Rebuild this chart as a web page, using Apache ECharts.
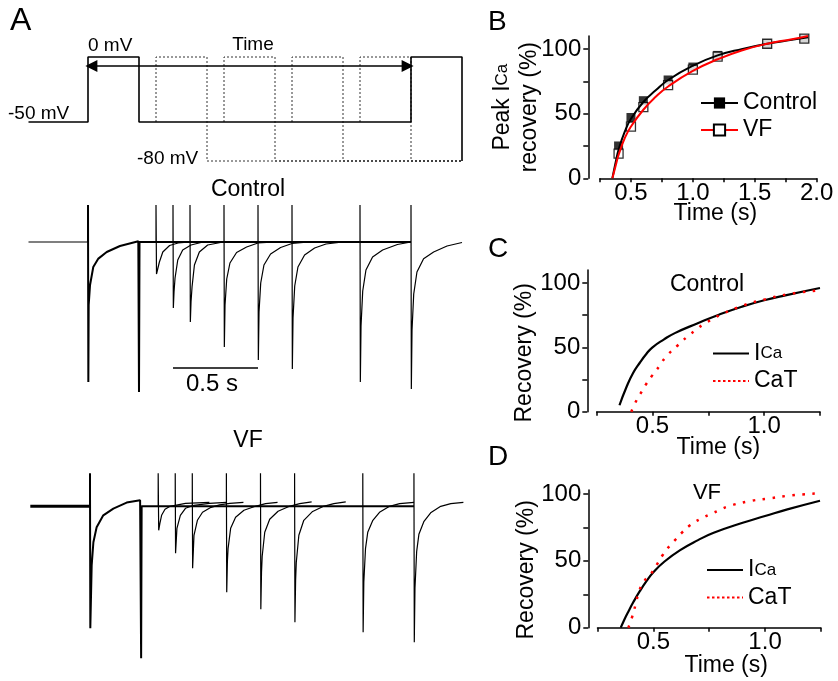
<!DOCTYPE html>
<html>
<head>
<meta charset="utf-8">
<script src="https://cdn.jsdelivr.net/npm/echarts@6/dist/echarts.min.js"></script>
<style>
  html, body { margin: 0; padding: 0; background: #fff; }
  #chart { width: 838px; height: 681px; }
</style>
</head>
<body>
<div id="chart"></div>
<script>
var FONT = '"Liberation Sans", Arial, Helvetica, sans-serif';

// ---- A: voltage protocol (mV), time in s from prepulse onset
var holdMv = -50, testMv = 0, postMv = -80;
var protoRange = [-0.35, 2.2];
var prepulseEnd = 0.3;
var dashedTestStarts = [0.4, 0.8, 1.2, 1.6];
var solidTestStart = 1.9;
var testDur = 0.3;
var arrowSpan = [0.02, 1.88];
var arrowMv = -7;

// ---- A: current traces (arbitrary units, holding level = 0)
var ctlBaseline = [[-0.35, 0], [0, 0]];
var ctlHold = [[0.3, 0], [1.9, 0]];
var ctlPrepulse = [[0, 0], [0, 37], [0.002, -140], [0.004, -63], [0.012, -43], [0.031, -25], [0.061, -16.6], [0.11, -10], [0.188, -4], [0.296, 0.7], [0.3, 0.7], [0.3, -150], [0.303, 0]];
var ctlSweeps = [
  [[0.4, 0], [0.4, 37], [0.403, -32], [0.41, -27], [0.42, -20], [0.44, -10], [0.48, -3.5], [0.53, -1], [0.6, 0], [0.7, 0]],
  [[0.5, 0], [0.5, 37], [0.502, -66], [0.506, -50], [0.512, -36], [0.528, -18], [0.557, -8], [0.606, -3], [0.665, -0.5], [0.8, 0]],
  [[0.6, 0], [0.6, 37], [0.602, -80], [0.606, -60], [0.612, -45], [0.626, -23], [0.655, -10], [0.704, -3], [0.78, -0.5], [0.9, 0]],
  [[0.8, 0], [0.8, 37], [0.802, -105], [0.806, -63], [0.816, -37], [0.835, -21], [0.874, -10.5], [0.933, -5], [1.0, -1], [1.1, 0]],
  [[1.0, 0], [1.0, 37], [1.002, -118], [1.006, -70], [1.016, -41], [1.035, -23], [1.074, -12], [1.133, -5.5], [1.2, -1.5], [1.3, 0]],
  [[1.2, 0], [1.2, 37], [1.202, -127], [1.206, -76], [1.216, -44], [1.235, -25], [1.274, -13], [1.333, -6], [1.4, -2], [1.5, 0]],
  [[1.6, 0], [1.6, 37], [1.602, -140], [1.606, -84], [1.616, -49], [1.635, -28], [1.674, -15], [1.733, -8], [1.82, -2.5], [1.9, 0]],
  [[1.9, 0], [1.9, 37], [1.902, -147], [1.906, -88], [1.916, -52], [1.935, -30], [1.974, -16.7], [2.033, -10], [2.112, -4], [2.2, -0.5]]
];
var vfBaseline = [[-0.35, 0], [0, 0]];
var vfHold = [[0.3, 0], [1.9, 0]];
var vfPrepulse = [[0, 0], [0, 33], [0.002, -122], [0.01, -59], [0.02, -36], [0.039, -21], [0.078, -9], [0.137, -2.3], [0.215, 3.7], [0.294, 6], [0.3, 6], [0.3, -152], [0.303, 0]];
var vfSweeps = [
  [[0.4, 0], [0.4, 33], [0.403, -24], [0.41, -17], [0.42, -9], [0.44, -3], [0.47, 0], [0.56, 3], [0.7, 4]],
  [[0.5, 0], [0.5, 33], [0.502, -47], [0.51, -22], [0.53, -9], [0.56, -2], [0.61, 1], [0.7, 3], [0.8, 4]],
  [[0.6, 0], [0.6, 33], [0.602, -62], [0.61, -29], [0.63, -14], [0.66, -6], [0.71, -1], [0.76, 1.5], [0.82, 3], [0.9, 4]],
  [[0.8, 0], [0.8, 33], [0.802, -86], [0.806, -55], [0.81, -42], [0.825, -22], [0.854, -11], [0.903, -4], [0.97, 0], [1.03, 2.7], [1.1, 4]],
  [[1.0, 0], [1.0, 33], [1.002, -103], [1.006, -66], [1.01, -50], [1.025, -26], [1.054, -13], [1.103, -5], [1.17, 0], [1.23, 2.7], [1.3, 4.5]],
  [[1.2, 0], [1.2, 33], [1.202, -116], [1.206, -74], [1.21, -56], [1.225, -29], [1.254, -14], [1.303, -5.5], [1.37, 0], [1.43, 2.7], [1.5, 4.5]],
  [[1.6, 0], [1.6, 33], [1.602, -126], [1.606, -76], [1.616, -42], [1.629, -26], [1.659, -14], [1.698, -6], [1.757, 0], [1.816, 2.7], [1.9, 4]],
  [[1.9, 0], [1.9, 33], [1.902, -136], [1.906, -82], [1.916, -45], [1.929, -28], [1.959, -15], [1.998, -6.5], [2.057, 0], [2.116, 2.7], [2.19, 4]]
];
var scaleBarT = [0.5, 1.0];
var scaleBarLevel = -126;

// ---- B: peak ICa recovery (%)
var bTimes = [0.4, 0.5, 0.6, 0.8, 1.0, 1.2, 1.6, 1.9];
var bControl = [25, 47, 60, 76, 86, 95, 104, 108];
var bVF = [19, 40, 55, 72, 84, 94, 104, 108];
var bFitT = [0.35, 0.38, 0.4, 0.45, 0.5, 0.6, 0.7, 0.8, 1.0, 1.2, 1.4, 1.6, 1.8, 1.93];
var bControlFit = [0, 14, 22, 36, 46, 59, 68, 76, 87, 95, 100, 104, 107, 109];
var bVFFit = [0, 11, 18, 31, 40, 53, 63, 71, 83, 92, 99, 104, 107.5, 110];
var bXTicks = [0.25, 0.5, 0.75, 1.0, 1.25, 1.5, 1.75, 2.0];
var bXLabels = [0.5, 1.0, 1.5, 2.0];

// ---- C: control, ICa vs CaT recovery (%)
var cIcaT = [0.352, 0.383, 0.413, 0.443, 0.473, 0.5, 0.55, 0.6, 0.7, 0.8, 0.9, 1.0, 1.1, 1.25];
var cIca = [5, 19, 30, 38, 45, 50, 56, 61, 68.5, 75.5, 81.5, 86.5, 90.5, 96];
var cCaTT = [0.405, 0.423, 0.446, 0.47, 0.498, 0.529, 0.56, 0.616, 0.654, 0.691, 0.729, 0.77, 0.807, 0.91, 1.0, 1.1, 1.249];
var cCaT = [0, 7, 14, 21, 28, 35, 42.6, 52, 58, 63, 68, 72, 75.5, 82.7, 87, 91, 94.3];

// ---- D: VF, ICa vs CaT recovery (%)
var dIcaT = [0.354, 0.37, 0.388, 0.41, 0.44, 0.47, 0.5, 0.55, 0.62, 0.7, 0.77, 0.9, 1.0, 1.1, 1.246];
var dIca = [0, 6, 12, 19, 27.5, 35, 41.5, 49.5, 58, 65.5, 71, 78.5, 83.5, 88.5, 95];
var dCaTT = [0.388, 0.403, 0.42, 0.437, 0.46, 0.49, 0.515, 0.542, 0.572, 0.6, 0.627, 0.664, 0.706, 0.746, 0.79, 0.831, 0.918, 1.022, 1.12, 1.246];
var dCaT = [0, 7, 17, 27.7, 35, 40.6, 47, 54.4, 61, 66, 71, 76.6, 81, 84.3, 87.5, 90.5, 94.3, 96.8, 99, 100.5];

var cdXTicks = [0.25, 0.5, 0.75, 1.0, 1.25];
var cdXLabels = [0.5, 1.0];
var yTicks = [0, 25, 50, 75, 100];
var yLabels = [0, 50, 100];

function zip(xs, ys) {
  return xs.map(function (x, i) { return [x, ys[i]]; });
}

var chart = echarts.init(document.getElementById('chart'), null, { renderer: 'canvas' });

// protocol paths
var solidProto = [
  [protoRange[0], holdMv], [0, holdMv], [0, testMv], [prepulseEnd, testMv], [prepulseEnd, holdMv],
  [solidTestStart, holdMv], [solidTestStart, testMv], [solidTestStart + testDur, testMv], [solidTestStart + testDur, postMv]
];

var series = [];

dashedTestStarts.forEach(function (t0) {
  series.push({
    type: 'line', xAxisIndex: 0, yAxisIndex: 0, symbol: 'none', clip: false, silent: true,
    data: [[t0, holdMv], [t0, testMv], [t0 + testDur, testMv], [t0 + testDur, postMv], [protoRange[1], postMv]],
    lineStyle: { color: '#333', width: 1, type: [2, 2] }
  });
});
series.push({
  type: 'line', xAxisIndex: 0, yAxisIndex: 0, symbol: 'none', clip: false, silent: true,
  data: solidProto,
  lineStyle: { color: '#000', width: 1.6 },
  markLine: {
    silent: true, animation: false,
    symbol: ['triangle', 'triangle'], symbolSize: [12, 12],
    label: { show: false },
    lineStyle: { color: '#000', width: 1.6, type: 'solid' },
    data: [[{ coord: [arrowSpan[0], arrowMv] }, { coord: [arrowSpan[1], arrowMv] }]]
  }
});

function trace(grid, data, width) {
  return {
    type: 'line', xAxisIndex: grid, yAxisIndex: grid, symbol: 'none', clip: false, silent: true,
    data: data, lineStyle: { color: '#000', width: width }
  };
}

series.push(trace(1, ctlBaseline, 1.2));
series.push(trace(1, ctlHold, 2));
ctlSweeps.forEach(function (s) { series.push(trace(1, s, 1.2)); });
series.push(trace(1, ctlPrepulse, 2));
series.push(trace(1, zip(scaleBarT, [scaleBarLevel, scaleBarLevel]), 1.5));

series.push(trace(2, vfBaseline, 3));
series.push(trace(2, vfHold, 2));
vfSweeps.forEach(function (s) { series.push(trace(2, s, 1.2)); });
series.push(trace(2, vfPrepulse, 2));

// B
series.push({ name: 'ctlFit', type: 'line', xAxisIndex: 3, yAxisIndex: 3, symbol: 'none', smooth: true, clip: false,
  data: zip(bFitT, bControlFit), lineStyle: { color: '#000', width: 2 } });
series.push({ name: 'vfFit', type: 'line', xAxisIndex: 3, yAxisIndex: 3, symbol: 'none', smooth: true, clip: false,
  data: zip(bFitT, bVFFit), lineStyle: { color: '#ff0000', width: 2 } });
series.push({ name: 'ctlPts', type: 'scatter', xAxisIndex: 3, yAxisIndex: 3, symbol: 'rect', symbolSize: 9,
  data: zip(bTimes, bControl), itemStyle: { color: '#000' } });
series.push({ name: 'vfPts', type: 'scatter', xAxisIndex: 3, yAxisIndex: 3, symbol: 'rect', symbolSize: 9,
  data: zip(bTimes, bVF), itemStyle: { color: '#fff', borderColor: '#000', borderWidth: 1.3 } });
// legend entries for B
series.push({ name: 'Control', type: 'line', xAxisIndex: 3, yAxisIndex: 3, data: [], symbol: 'rect',
  itemStyle: { color: '#000' }, lineStyle: { color: '#000', width: 2 } });
series.push({ name: 'VF', type: 'line', xAxisIndex: 3, yAxisIndex: 3, data: [], symbol: 'emptyRect',
  itemStyle: { color: '#000' }, lineStyle: { color: '#ff0000', width: 2 } });

// C and D
var dotted = { color: '#ff0000', width: 2.5, type: [2.5, 7.5], cap: 'butt' };
series.push({ name: 'ICa', type: 'line', xAxisIndex: 4, yAxisIndex: 4, symbol: 'none', smooth: true, clip: false,
  data: zip(cIcaT, cIca), itemStyle: { color: '#000' }, lineStyle: { color: '#000', width: 2.2 } });
series.push({ name: 'CaT', type: 'line', xAxisIndex: 4, yAxisIndex: 4, symbol: 'none', smooth: true, clip: false,
  data: zip(cCaTT, cCaT), itemStyle: { color: '#ff0000' }, lineStyle: dotted });
series.push({ name: 'ICa', type: 'line', xAxisIndex: 5, yAxisIndex: 5, symbol: 'none', smooth: true, clip: false,
  data: zip(dIcaT, dIca), itemStyle: { color: '#000' }, lineStyle: { color: '#000', width: 2.2 } });
series.push({ name: 'CaT', type: 'line', xAxisIndex: 5, yAxisIndex: 5, symbol: 'none', smooth: true, clip: false,
  data: zip(dCaTT, dCaT), itemStyle: { color: '#ff0000' }, lineStyle: dotted });

function hidden(grid, min, max) {
  return { type: 'value', gridIndex: grid, min: min, max: max, show: false };
}

var axisLineStyle = { color: '#000', width: 1.5 };
var subStyle = { fontSize: 17, fontFamily: FONT, color: '#000', verticalAlign: 'middle' };

function xAxisFor(grid, min, max, ticks, labels, gap, shift) {
  return {
    type: 'value', gridIndex: grid, min: min, max: max,
    axisLine: { show: true, onZero: false, lineStyle: axisLineStyle },
    axisTick: { show: true, customValues: ticks, length: 4, lineStyle: axisLineStyle },
    axisLabel: { customValues: labels, margin: 3, formatter: function (v) { return v.toFixed(1); }, color: '#000', fontSize: 24, fontFamily: FONT },
    splitLine: { show: false },
    name: 'Time (s)', nameLocation: 'middle', nameGap: gap, nameMoveOverlap: false,
    nameTextStyle: { color: '#000', fontSize: 23, fontFamily: FONT, padding: [0, 0, 0, shift] }
  };
}

function yAxisFor(grid, max, offset, name, gap, pad, extra) {
  var nts = { color: '#000', fontSize: 23, fontFamily: FONT, padding: [0, pad, 0, 0] };
  if (extra) { for (var k in extra) nts[k] = extra[k]; }
  return {
    type: 'value', gridIndex: grid, min: 0, max: max, offset: offset,
    axisLine: { show: true, onZero: false, lineStyle: axisLineStyle },
    axisTick: { show: true, customValues: yTicks, length: 5, lineStyle: axisLineStyle },
    axisLabel: { customValues: yLabels, margin: 7, color: '#000', fontSize: 24, fontFamily: FONT },
    splitLine: { show: false },
    name: name, nameLocation: 'middle', nameGap: gap, nameRotate: 90, nameMoveOverlap: false,
    nameTextStyle: nts
  };
}

var texts = [
  ['A', 10, 21.5, 32, 'left'],
  ['B', 488, 22.7, 28, 'left'],
  ['C', 488, 249, 28, 'left'],
  ['D', 488, 457.5, 28, 'left'],
  ['0 mV', 88, 45.5, 19, 'left'],
  ['Time', 253, 45, 19, 'center'],
  ['-50 mV', 8, 113.5, 19, 'left'],
  ['-80 mV', 137, 159, 19, 'left'],
  ['Control', 248, 190, 23, 'center'],
  ['VF', 248, 440.5, 23, 'center'],
  ['0.5 s', 212, 384, 24, 'center'],
  ['Control', 707, 285, 23, 'center'],
  ['VF', 707, 493, 22, 'center']
];

var legendText = { color: '#000', fontSize: 23, fontFamily: FONT, rich: { s: subStyle } };
function icaFormatter(name) { return name === 'ICa' ? 'I{s|Ca}' : name; }
var cdLegendData = [
  { name: 'ICa', itemStyle: { opacity: 0 } },
  { name: 'CaT', itemStyle: { opacity: 0 }, lineStyle: { type: [2.5, 2.5], cap: 'butt' } }
];

var option = {
  animation: false,
  backgroundColor: '#fff',
  textStyle: { fontFamily: FONT },
  grid: [
    { left: 28.5, top: 57, width: 433.5, height: 104, outerBoundsMode: 'none' },
    { left: 28.5, top: 205, width: 433.5, height: 187, outerBoundsMode: 'none' },
    { left: 30.3, top: 473.3, width: 434.8, height: 185, outerBoundsMode: 'none' },
    { left: 600, top: 36, width: 216.7, height: 142.3, outerBoundsMode: 'none' },
    { left: 596.7, top: 270, width: 223.3, height: 141.7, outerBoundsMode: 'none' },
    { left: 597.5, top: 490, width: 223.4, height: 137.7, outerBoundsMode: 'none' }
  ],
  xAxis: [
    hidden(0, protoRange[0], protoRange[1]),
    hidden(1, protoRange[0], protoRange[1]),
    hidden(2, protoRange[0], protoRange[1]),
    xAxisFor(3, 0.25, 2.0, bXTicks, bXLabels, 24, 14),
    xAxisFor(4, 0.25, 1.25, cdXTicks, cdXLabels, 24, 20),
    xAxisFor(5, 0.25, 1.25, cdXTicks, cdXLabels, 26, 34)
  ],
  yAxis: [
    hidden(0, postMv, testMv),
    hidden(1, -150, 37),
    hidden(2, -152, 33),
    yAxisFor(3, 110, 11.7, 'Peak I{s|Ca}\nrecovery (%)', 45, 0, { lineHeight: 27, rich: { s: subStyle } }),
    yAxisFor(4, 110, 9.4, 'Recovery (%)', 51, 24),
    yAxisFor(5, 103, 9.2, 'Recovery (%)', 50, 22)
  ],
  legend: [
    { data: ['Control', 'VF'], orient: 'vertical', left: 700, top: 91.5, padding: 0,
      itemWidth: 37, itemHeight: 14, itemGap: 4, selectedMode: false,
      textStyle: { color: '#000', fontSize: 23, fontFamily: FONT } },
    { data: cdLegendData, orient: 'vertical', left: 712, top: 342, padding: 0, itemWidth: 36, itemHeight: 4, itemGap: 4.5,
      selectedMode: false, formatter: icaFormatter, textStyle: legendText },
    { data: cdLegendData, orient: 'vertical', left: 706, top: 558.5, padding: 0, itemWidth: 36, itemHeight: 4, itemGap: 4.5,
      selectedMode: false, formatter: icaFormatter, textStyle: legendText }
  ],
  graphic: texts.map(function (t) {
    return {
      type: 'text', x: t[1], y: t[2], silent: true,
      style: { text: t[0], fontSize: t[3], fontFamily: FONT, fill: '#000', align: t[4], verticalAlign: 'middle' }
    };
  }),
  series: series
};

chart.setOption(option);
</script>
</body>
</html>
